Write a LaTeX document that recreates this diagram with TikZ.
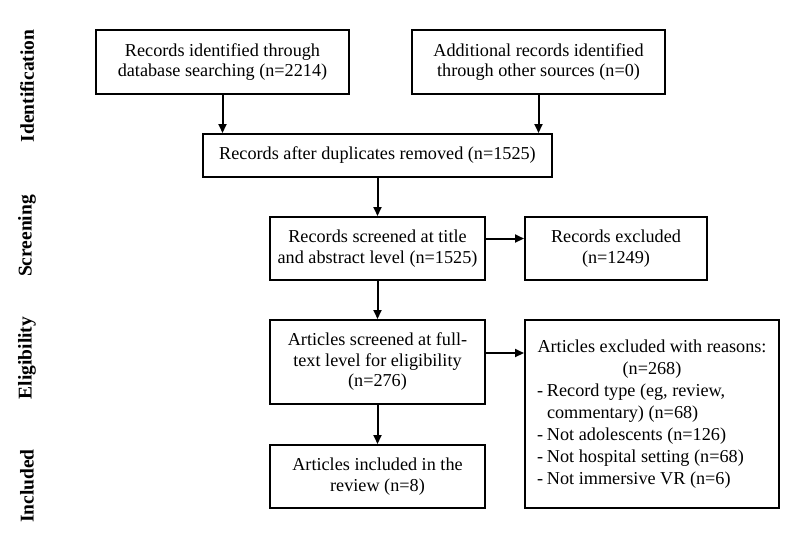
\documentclass[tikz,border=0pt]{standalone}
\usepackage{fontspec}
\setmainfont{Liberation Serif}
\usetikzlibrary{calc,arrows.meta}
\definecolor{ink}{HTML}{000000}
\definecolor{paper}{HTML}{FFFFFF}
\tikzset{
  box/.style={draw=ink, line width=2pt, fill=paper, align=center, inner sep=3pt,
    font=\fontsize{18.2}{20.5}\selectfont},
  flow/.style={draw=ink, line width=2pt, -{Triangle[length=9pt,width=8pt]}},
  stage/.style={rotate=90, text=ink, font=\fontsize{19.5}{22}\selectfont\bfseries}
}
\newcommand{\reason}[1]{\par\hangindent=10pt\hangafter=1\noindent\makebox[10pt][l]{-}#1}

\begin{document}
\begin{tikzpicture}[x=1pt,y=1pt]
  \useasboundingbox (0,0) rectangle (800,-542);

  % phases
  \node[stage] (sid) at (27,-86)  {Identification};
  \node[stage] (ssc) at (27,-236) {Screening};
  \node[stage] (sel) at (27,-358) {Eligibility};
  \node[stage] (sin) at (27,-486) {Included};

  % boxes
  \node[box, minimum width=253, minimum height=64] (db) at (222.5,-62)
    {Records identified through\\database searching (n=2214)};
  \node[box, minimum width=253, minimum height=64] (other) at (538.5,-62)
    {Additional records identified\\through other sources (n=0)};
  \node[box, minimum width=349, minimum height=43] (dup) at (377.5,-155.5)
    {Records after duplicates removed (n=1525)};
  \node[box, minimum width=215, minimum height=63] (scr) at (377.5,-248.5)
    {Records screened at title\\and abstract level (n=1525)};
  \node[box, minimum width=182, minimum height=63] (rexc) at (616,-248.5)
    {Records excluded\\(n=1249)};
  \node[box, minimum width=215, minimum height=84] (full) at (377.5,-362)
    {Articles screened at full-\\text level for eligibility\\(n=276)};
  \node[box, align=none, text width=230pt, inner xsep=12pt, minimum height=188,
    font=\fontsize{18.2}{22}\selectfont] (aexc) at (652,-414)
    {{\centering Articles excluded with reasons:\\(n=268)\par}
     \reason{Record type (eg, review,\\commentary) (n=68)}
     \reason{Not adolescents (n=126)}
     \reason{Not hospital setting (n=68)}
     \reason{Not immersive VR (n=6)}\par\vspace{16pt}};
  \node[box, minimum width=215, minimum height=63] (incl) at (377.5,-476.5)
    {Articles included in the\\review (n=8)};

  % arrows
  \draw[flow] (db.south) -- (db.south |- dup.north);
  \draw[flow] (other.south) -- (other.south |- dup.north);
  \draw[flow] (dup.south) -- (scr.north);
  \draw[flow] ([yshift=10pt]scr.east) -- ([yshift=10pt]scr.east -| rexc.west);
  \draw[flow] (scr.south) -- (full.north);
  \draw[flow] ([yshift=9pt]full.east) -- ([yshift=9pt]full.east -| aexc.west);
  \draw[flow] (full.south) -- (incl.north);
\end{tikzpicture}
\end{document}
